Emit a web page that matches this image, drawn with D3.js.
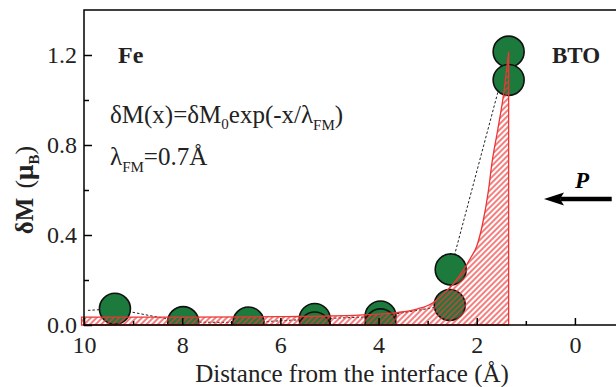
<!DOCTYPE html>
<html>
<head>
<meta charset="utf-8">
<script src="https://cdn.jsdelivr.net/npm/d3@7"></script>
<style>
  body { margin: 0; background: #fff; }
  svg { display: block; }
</style>
</head>
<body>
<div id="chart"></div>
<script>
// circles (distance in Å, δM in μB)
var upperX = [9.37, 7.98, 6.65, 5.30, 3.96, 2.53, 1.35];
var upperY = [0.072, 0.013, 0.011, 0.027, 0.038, 0.247, 1.215];
var lowerX = [5.30, 3.96, 2.55, 1.35];
var lowerY = [-0.011, 0.003, 0.089, 1.089];

// dashed guide line
var guideX = [9.92, 9.37, 7.98, 6.65, 5.30, 3.96, 2.55, 2.53, 1.35];
var guideY = [0.065, 0.072, 0.013, 0.011, 0.027, 0.038, 0.089, 0.247, 1.215];

// exponential fit (hatched area)
var fitX = [10.05, 8, 6, 5, 4.2, 3.6, 3.2, 2.9, 2.67, 2.45, 2.27, 2.12, 2.0, 1.88, 1.76, 1.69, 1.57, 1.45, 1.35];
var fitY = [0.035, 0.035, 0.037, 0.04, 0.046, 0.056, 0.072, 0.098, 0.14, 0.19, 0.245, 0.3, 0.35, 0.45, 0.6, 0.72, 0.87, 1.03, 1.215];

var xMajor = [10, 8, 6, 4, 2, 0];
var xMinor = [9, 7, 5, 3, 1];
var yMajor = [0.0, 0.4, 0.8, 1.2];
var yMinor = [0.2, 0.6, 1.0];

var width = 616, height = 387;
var serif = "'Liberation Serif', 'Times New Roman', serif";

var svg = d3.select("#chart").append("svg")
    .attr("width", width)
    .attr("height", height)
    .style("font-family", serif);

// plot box runs past the right edge of the picture
var x = d3.scaleLinear().domain([10, -1]).range([84, 624]);
var y = d3.scaleLinear().domain([0, 1.4]).range([325, 10]);

var defs = svg.append("defs");
defs.append("clipPath").attr("id", "plotclip")
  .append("rect")
    .attr("x", x(10)).attr("y", y(1.4))
    .attr("width", x(-1) - x(10)).attr("height", y(0) - y(1.4));

var hatch = defs.append("pattern")
    .attr("id", "hatch")
    .attr("patternUnits", "userSpaceOnUse")
    .attr("width", 4).attr("height", 4)
    .attr("patternTransform", "rotate(45)");
hatch.append("line")
    .attr("x1", 1).attr("y1", 0).attr("x2", 1).attr("y2", 4)
    .attr("stroke", "#ee3a3a")
    .attr("stroke-width", 1.3);

// dashed guide
var guide = guideX.map(function(d, i){ return [d, guideY[i]]; });
svg.append("path")
    .datum(guide)
    .attr("clip-path", "url(#plotclip)")
    .attr("d", d3.line().x(function(d){ return x(d[0]); }).y(function(d){ return y(d[1]); }))
    .attr("fill", "none")
    .attr("stroke", "#222")
    .attr("stroke-width", 1)
    .attr("stroke-dasharray", "2.5,2");

// circles, upper first so the lower ones sit on top
var pts = upperX.map(function(d, i){ return [d, upperY[i]]; })
    .concat(lowerX.map(function(d, i){ return [d, lowerY[i]]; }));
svg.append("g")
    .attr("clip-path", "url(#plotclip)")
    .selectAll("circle")
    .data(pts)
    .enter()
    .append("circle")
      .attr("cx", function(d){ return x(d[0]); })
      .attr("cy", function(d){ return y(d[1]); })
      .attr("r", 15.5)
      .attr("fill", "#1b7a3c")
      .attr("stroke", "#111")
      .attr("stroke-width", 1.6);

// hatched fit area on top
var fit = fitX.map(function(d, i){ return [d, fitY[i]]; });
svg.append("path")
    .datum(fit)
    .attr("d", d3.area()
        .x(function(d){ return x(d[0]); })
        .y0(y(0))
        .y1(function(d){ return y(d[1]); })
        .curve(d3.curveMonotoneX))
    .attr("fill", "url(#hatch)")
    .attr("stroke", "#ec3535")
    .attr("stroke-width", 1.3);

// frame
svg.append("rect")
    .attr("x", x(10)).attr("y", y(1.4))
    .attr("width", x(-1) - x(10)).attr("height", y(0) - y(1.4))
    .attr("fill", "none")
    .attr("stroke", "#000")
    .attr("stroke-width", 1.5);

// axes, ticks point inward
var gx = svg.append("g").attr("transform", "translate(0," + y(0) + ")");
gx.call(d3.axisBottom(x).tickValues(xMajor).tickSize(-7).tickSizeOuter(0).tickPadding(11)
    .tickFormat(d3.format("d")));
gx.append("g").call(d3.axisBottom(x).tickValues(xMinor).tickSize(-4).tickSizeOuter(0).tickFormat(""));

var gy = svg.append("g").attr("transform", "translate(" + x(10) + ",0)");
gy.call(d3.axisLeft(y).tickValues(yMajor).tickSize(-8).tickSizeOuter(0).tickPadding(7)
    .tickFormat(d3.format(".1f")));
gy.append("g").call(d3.axisLeft(y).tickValues(yMinor).tickSize(-5).tickSizeOuter(0).tickFormat(""));

svg.selectAll(".domain").remove();
svg.selectAll(".tick line").attr("stroke", "#000").attr("stroke-width", 1.5);
svg.selectAll(".tick text")
    .attr("font-family", serif)
    .attr("font-size", 24)
    .attr("fill", "#222");

// axis titles
svg.append("text")
    .attr("x", 352).attr("y", 382)
    .attr("text-anchor", "middle")
    .attr("font-size", 25)
    .attr("fill", "#222")
    .text("Distance from the interface (Å)");

var yl = svg.append("text")
    .attr("transform", "translate(33,190) rotate(-90)")
    .attr("text-anchor", "middle")
    .attr("font-size", 25)
    .attr("font-weight", "bold")
    .attr("fill", "#222");
yl.append("tspan").text("δM");
yl.append("tspan").attr("dx", 9).attr("font-weight", "normal").attr("font-size", 26).text("(");
yl.append("tspan").attr("font-size", 27).text("μ");
yl.append("tspan").attr("font-size", 15).attr("dy", 6).text("B");
yl.append("tspan").attr("dy", -6).attr("font-weight", "normal").attr("font-size", 26).text(")");

// labels inside the plot
svg.append("text").attr("x", 118).attr("y", 63)
    .attr("font-size", 24).attr("font-weight", "bold").attr("fill", "#222").text("Fe");
svg.append("text").attr("x", 552).attr("y", 63)
    .attr("font-size", 23).attr("font-weight", "bold").attr("fill", "#222").text("BTO");

var f1 = svg.append("text").attr("x", 110).attr("y", 123)
    .attr("font-size", 25).attr("fill", "#222");
f1.append("tspan").text("δM(x)=δM");
f1.append("tspan").attr("font-size", 15).attr("dy", 6).text("0");
f1.append("tspan").attr("dy", -6).text("exp(-x/λ");
f1.append("tspan").attr("font-size", 15).attr("dy", 7).text("FM");
f1.append("tspan").attr("dy", -7).text(")");

var f2 = svg.append("text").attr("x", 110).attr("y", 165)
    .attr("font-size", 25).attr("fill", "#222");
f2.append("tspan").text("λ");
f2.append("tspan").attr("font-size", 15).attr("dy", 7).text("FM");
f2.append("tspan").attr("dy", -7).text("=0.7Å");

// polarisation arrow
var ay = y(0.56);
svg.append("line")
    .attr("x1", x(0.3)).attr("x2", x(-0.75))
    .attr("y1", ay).attr("y2", ay)
    .attr("stroke", "#000").attr("stroke-width", 4.5);
svg.append("path")
    .attr("d", "M" + x(0.63) + "," + ay +
               "L" + (x(0.63) + 20) + "," + (ay - 6.5) +
               "L" + (x(0.63) + 16) + "," + ay +
               "L" + (x(0.63) + 20) + "," + (ay + 6.5) + "Z")
    .attr("fill", "#000");
svg.append("text").attr("x", 575).attr("y", 188)
    .attr("font-size", 23).attr("font-weight", "bold").attr("font-style", "italic")
    .attr("fill", "#000").text("P");
</script>
</body>
</html>
